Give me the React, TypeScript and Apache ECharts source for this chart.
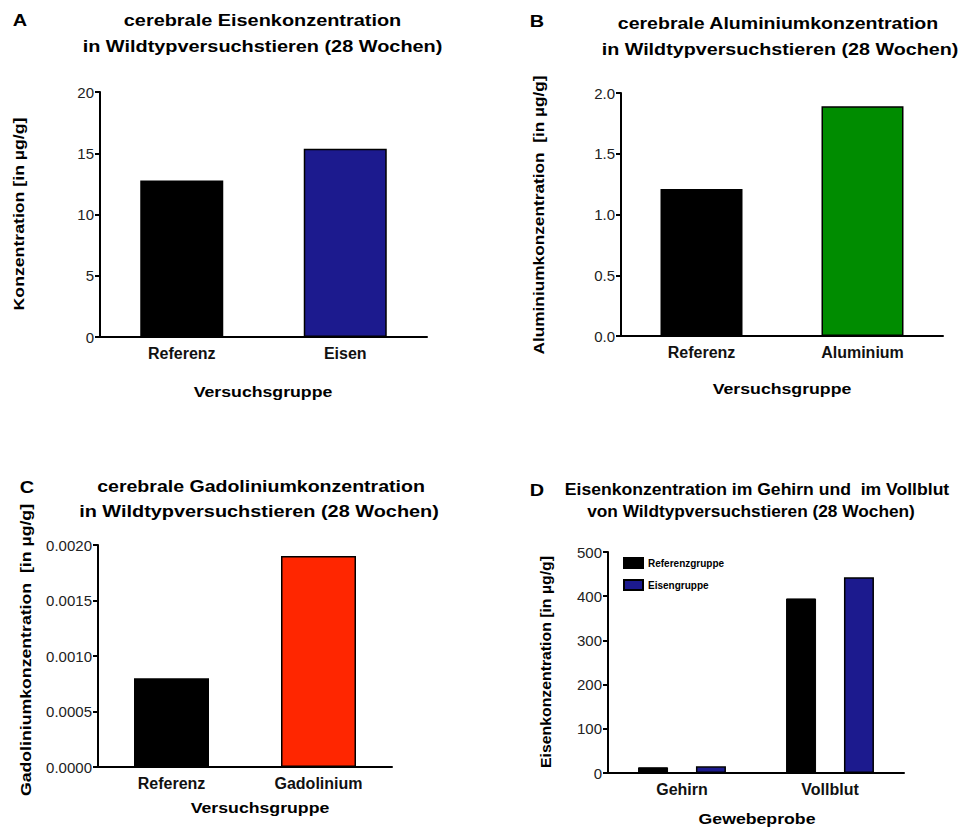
import React, { useEffect, useRef } from "react";
import * as echarts from "echarts";

// ---- data ----
const catsA = ["Referenz", "Eisen"];
const valsA = [12.77, 15.37];
const catsB = ["Referenz", "Aluminium"];
const valsB = [1.21, 1.89];
const catsC = ["Referenz", "Gadolinium"];
const valsC = [0.0008, 0.0019];
const catsD = ["Gehirn", "Vollblut"];
const seriesNamesD = ["Referenzgruppe", "Eisengruppe"];
const refD = [13, 395];
const eisenD = [15, 443];

const yTicksA = { min: 0, max: 20, interval: 5, digits: 0 };
const yTicksB = { min: 0, max: 2, interval: 0.5, digits: 1 };
const yTicksC = { min: 0, max: 0.002, interval: 0.0005, digits: 4 };
const yTicksD = { min: 0, max: 500, interval: 100, digits: 0 };

const FONT = "'Liberation Sans', Arial, Helvetica, sans-serif";
const BLACK = "#000000";
const BLUE = "#1c1a8e";
const GREEN = "#008c00";
const RED = "#ff2600";

function App() {
  const ref = useRef<HTMLDivElement>(null);
  useEffect(() => {
    if (!ref.current) return;
    const chart = echarts.init(ref.current, undefined, { renderer: "svg" });

    const grids = [
      { left: 100, top: 92, width: 327, height: 245 },
      { left: 621, top: 93, width: 322, height: 243 },
      { left: 98, top: 545, width: 294, height: 222 },
      { left: 608, top: 552, width: 296, height: 221 },
    ];

    const mkX = (cats: string[], gi: number) => ({
      type: "category",
      gridIndex: gi,
      data: cats,
      axisLine: { lineStyle: { color: "#000", width: 2 } },
      axisTick: { alignWithLabel: true, length: 4, lineStyle: { color: "#000", width: 2 } },
      axisLabel: { fontFamily: FONT, fontSize: 16, fontWeight: "bold", color: "#111", margin: 8 },
    });
    const mkY = (t: any, gi: number) => ({
      type: "value",
      gridIndex: gi,
      min: t.min,
      max: t.max,
      interval: t.interval,
      splitLine: { show: false },
      axisLine: { show: true, lineStyle: { color: "#000", width: 2 } },
      axisTick: { show: true, length: 5, lineStyle: { color: "#000", width: 2 } },
      axisLabel: {
        fontFamily: FONT,
        fontSize: 15,
        color: "#222",
        margin: 6,
        formatter: (v: number) => v.toFixed(t.digits),
      },
    });

    const itemData = (vals: number[], colors: string[]) =>
      vals.map((v, i) => ({
        value: v,
        itemStyle: {
          color: colors[i],
          borderColor: "#000",
          borderWidth: colors[i] === BLACK ? 0 : 1.5,
        },
      }));

    const titleText = (t: string, x: number, y: number, size = 17, sx = 1.17) => ({
      type: "text",
      x,
      y,
      scaleX: sx,
      style: {
        text: t,
        fontFamily: FONT,
        fontSize: size,
        fontWeight: "bold",
        fill: "#000",
        align: "center",
        verticalAlign: "middle",
      },
    });
    const vText = (t: string, x: number, y: number, size = 15, sx = 1.18) => ({
      type: "text",
      x,
      y,
      rotation: Math.PI / 2,
      scaleX: sx,
      style: {
        text: t,
        fontFamily: FONT,
        fontSize: size,
        fontWeight: "bold",
        fill: "#000",
        align: "center",
        verticalAlign: "middle",
      },
    });

    chart.setOption({
      animation: false,
      backgroundColor: "#fff",
      grid: grids,
      xAxis: [mkX(catsA, 0), mkX(catsB, 1), mkX(catsC, 2), mkX(catsD, 3)],
      yAxis: [mkY(yTicksA, 0), mkY(yTicksB, 1), mkY(yTicksC, 2), mkY(yTicksD, 3)],
      legend: {
        data: seriesNamesD,
        orient: "vertical",
        left: 618,
        top: 552,
        itemWidth: 19,
        itemHeight: 10,
        itemGap: 10,
        icon: "rect",
        textStyle: { fontFamily: FONT, fontSize: 10, fontWeight: "bold", color: "#000" },
      },
      series: [
        { type: "bar", xAxisIndex: 0, yAxisIndex: 0, barWidth: 83, data: itemData(valsA, [BLACK, BLUE]) },
        { type: "bar", xAxisIndex: 1, yAxisIndex: 1, barWidth: 82, data: itemData(valsB, [BLACK, GREEN]) },
        { type: "bar", xAxisIndex: 2, yAxisIndex: 2, barWidth: 75, data: itemData(valsC, [BLACK, RED]) },
        {
          type: "bar",
          name: seriesNamesD[0],
          xAxisIndex: 3,
          yAxisIndex: 3,
          barWidth: 30,
          barGap: "93%",
          itemStyle: { color: BLACK, borderColor: "#000", borderWidth: 1 },
          data: refD,
        },
        {
          type: "bar",
          name: seriesNamesD[1],
          xAxisIndex: 3,
          yAxisIndex: 3,
          barWidth: 30,
          barGap: "93%",
          itemStyle: { color: BLUE, borderColor: "#000", borderWidth: 1.5 },
          data: eisenD,
        },
      ],
      graphic: [
        titleText("A", 20, 20.5),
        titleText("cerebrale Eisenkonzentration", 262.5, 20.5),
        titleText("in Wildtypversuchstieren (28 Wochen)", 262.5, 46),
        titleText("B", 537, 21.5),
        titleText("cerebrale Aluminiumkonzentration", 778, 22.5, 17, 1.15),
        titleText("in Wildtypversuchstieren (28 Wochen)", 780, 48.5, 17, 1.16),
        titleText("C", 27, 487),
        titleText("cerebrale Gadoliniumkonzentration", 261, 486, 17, 1.15),
        titleText("in Wildtypversuchstieren (28 Wochen)", 259, 511),
        titleText("D", 537, 490),
        titleText("Eisenkonzentration im Gehirn und  im Vollblut", 757, 490, 16, 1.1),
        titleText("von Wildtypversuchstieren (28 Wochen)", 751, 512, 16, 1.08),
        vText("Konzentration [in µg/g]", 19, 214),
        vText("Aluminiumkonzentration  [in µg/g]", 538, 215, 15, 1.15),
        vText("Gadoliniumkonzentration  [in µg/g]", 26, 650),
        vText("Eisenkonzentration [in µg/g]", 546, 662, 14, 1.13),
        titleText("Versuchsgruppe", 263, 392, 15, 1.18),
        titleText("Versuchsgruppe", 782, 389, 15, 1.18),
        titleText("Versuchsgruppe", 260, 808, 15, 1.18),
        titleText("Gewebeprobe", 757, 819, 15, 1.18),
      ],
    });
    return () => chart.dispose();
  }, []);
  return (
    <div
      ref={ref}
      style={{ position: "fixed", left: 0, top: 0, width: 963, height: 829, background: "#fff" }}
    />
  );
}

export default App;
